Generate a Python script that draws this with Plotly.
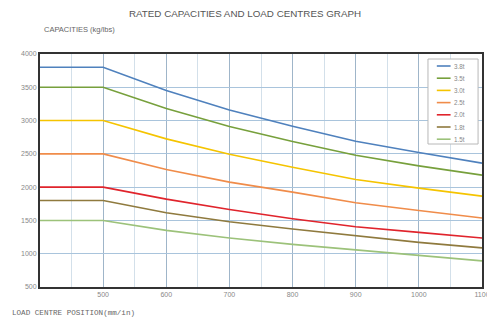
import plotly.graph_objects as go

load_centre = [400, 500, 600, 700, 800, 900, 1000, 1100]
series_names = ["3.8t", "3.5t", "3.0t", "2.5t", "2.0t", "1.8t", "1.5t"]
cap_38 = [3800, 3800, 3450, 3160, 2915, 2690, 2520, 2360]
cap_35 = [3500, 3500, 3180, 2910, 2685, 2480, 2320, 2180]
cap_30 = [3000, 3000, 2725, 2495, 2300, 2115, 1985, 1865]
cap_25 = [2500, 2500, 2265, 2075, 1925, 1765, 1650, 1537]
cap_20 = [2000, 2000, 1820, 1665, 1525, 1405, 1320, 1236]
cap_18 = [1800, 1800, 1615, 1480, 1370, 1265, 1170, 1088]
cap_15 = [1500, 1500, 1350, 1235, 1140, 1055, 970, 892]
x_ticks = [500, 600, 700, 800, 900, 1000, 1100]
y_ticks = [500, 1000, 1500, 2000, 2500, 3000, 3500, 4000]

colors = ["#4f81bd", "#77a03c", "#f5c400", "#f08c4a", "#e0242c", "#8f7a3e", "#9cc27a"]
all_caps = [cap_38, cap_35, cap_30, cap_25, cap_20, cap_18, cap_15]

# page offset of the plotly div (default body margin)
OFF = 8
W, H = 495 - OFF, 319 - OFF
PL, PR, PT, PB = 40, 490, 54, 287  # plot area in page pixels


def px(x):
    return (x - PL) / (PR - PL)


def py(y):
    return (PB - y) / (PB - PT)


fig = go.Figure()
for name, vals, col in zip(series_names, all_caps, colors):
    fig.add_trace(go.Scatter(
        x=load_centre, y=vals, name=name, mode="lines",
        line=dict(color=col, width=1.6),
    ))

shapes = [dict(type="rect", xref="paper", yref="paper",
               x0=px(435), x1=px(486), y0=py(144), y1=py(59),
               fillcolor="white", line=dict(color="#b8b8b8", width=1), layer="above")]
annotations = []
for i, (name, col) in enumerate(zip(series_names, colors)):
    yy = 66 + i * 12.2
    shapes.append(dict(type="line", xref="paper", yref="paper",
                       x0=px(444), x1=px(458), y0=py(yy), y1=py(yy),
                       line=dict(color=col, width=1.6), layer="above"))
    annotations.append(dict(text=name, xref="paper", yref="paper",
                            x=px(459), y=py(yy), xanchor="left", yanchor="middle",
                            showarrow=False, font=dict(size=6.3, color="#888")))

annotations += [
    dict(text="CAPACITIES (kg/lbs)", xref="paper", yref="paper",
         x=px(42), y=py(30), xanchor="left", yanchor="middle",
         showarrow=False, font=dict(size=7.5, color="#666")),
    dict(text="LOAD CENTRE POSITION(mm/in)", xref="paper", yref="paper",
         x=px(OFF + 1), y=py(313), xanchor="left", yanchor="middle",
         showarrow=False, font=dict(size=7.6, color="#666",
                                    family="Liberation Mono, monospace")),
]

fig.update_layout(
    width=W, height=H,
    margin=dict(l=PL - OFF, r=W - (PR - OFF), t=PT - OFF, b=H - (PB - OFF)),
    paper_bgcolor="white", plot_bgcolor="white",
    font=dict(family="Liberation Sans, Arial, sans-serif", color="#555"),
    title=dict(text="RATED CAPACITIES AND LOAD CENTRES GRAPH",
               x=(245 - OFF) / W, xanchor="center", y=1 - (14 - OFF) / H, yanchor="middle",
               font=dict(size=9.8, color="#555")),
    showlegend=False,
    xaxis=dict(range=[400, 1100], tickvals=x_ticks, ticktext=[str(v) for v in x_ticks],
               showgrid=True, gridcolor="#9fb5c9", gridwidth=1,
               minor=dict(dtick=50, tick0=400, showgrid=True, gridcolor="#d3e0ea", gridwidth=1),
               showline=True, linecolor="#333", linewidth=2, mirror=True,
               ticks="", tickfont=dict(size=7, color="#888"), zeroline=False,
               ticklabeloverflow="allow"),
    yaxis=dict(range=[500, 4000], tickvals=y_ticks,
               showgrid=True, gridcolor="#a9c4dc", gridwidth=1,
               showline=True, linecolor="#333", linewidth=2, mirror=True,
               ticks="", tickfont=dict(size=7, color="#888"), zeroline=False),
    shapes=shapes,
    annotations=annotations,
)

fig.write_html("out.html")
